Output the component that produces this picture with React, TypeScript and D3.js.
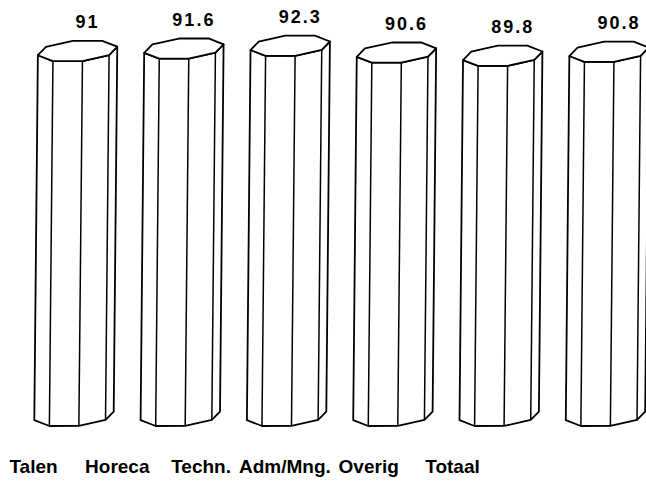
import React from "react";
import * as d3 from "d3";

const categories = ["Talen", "Horeca", "Techn.", "Adm/Mng.", "Overig", "Totaal"];
const values = [91, 91.6, 92.3, 90.6, 89.8, 90.8];
const valueLabels = ["91", "91.6", "92.3", "90.6", "89.8", "90.8"];

const W = 646;
const H = 484;

export default function App() {
  const x = d3.scalePoint<string>().domain(categories).range([74, 605.5]);
  const xl = d3.scalePoint<string>().domain(categories).range([33.5, 452.5]);
  const y = d3.scaleLinear().domain([0, 100]).range([426, 25]);

  const rx = 40;
  const ry = 10.5;
  const tilt = -3;
  const angles = [173, 128, 83, 38, -7, -52, -97, -142].map((a) => (a * Math.PI) / 180);
  const off = angles.map((a) => [rx * Math.cos(a), ry * Math.sin(a) + tilt * Math.cos(a)]);
  const frontY = d3.max(off, (o) => o[1]) as number;
  const baseY = y(0) - frontY;
  const skewPerPx = 3.5 / 358;

  const line = d3.line();

  return (
    <svg
      width={W}
      height={H}
      style={{ position: "absolute", left: 0, top: 0, background: "#fff" }}
      fontFamily="'Liberation Sans', Arial, Helvetica, sans-serif"
    >
      <rect x={0} y={0} width={W} height={H} fill="#fff" />
      {categories.map((c, i) => {
        const bx = x(c) as number;
        const by = baseY;
        const ty = y(values[i]) - frontY;
        const tx = bx + (by - ty) * skewPerPx;
        const top = off.map((o) => [tx + o[0], ty + o[1]] as [number, number]);
        const bot = off.map((o) => [bx + o[0], by + o[1]] as [number, number]);
        const body = [...top.slice(0, 5), ...bot.slice(0, 5).reverse()];
        return (
          <g key={c}>
            <path d={line(body) + "Z"} fill="#fff" stroke="#000" strokeWidth={1.8} strokeLinejoin="round" />
            {[1, 2, 3].map((k) => (
              <path key={k} d={line([top[k], bot[k]]) as string} stroke="#000" strokeWidth={1.5} fill="none" />
            ))}
            <path d={line(top) + "Z"} fill="#fff" stroke="#000" strokeWidth={1.8} strokeLinejoin="round" />
            <text
              x={tx + 10}
              y={y(values[i]) - 33}
              textAnchor="middle"
              fontSize={18}
              fontWeight="bold"
              letterSpacing={2}
              fill="#000"
            >
              {valueLabels[i]}
            </text>
            <text
              x={xl(c) as number}
              y={473}
              textAnchor="middle"
              fontSize={19}
              fontWeight="bold"
              fill="#000"
            >
              {c}
            </text>
          </g>
        );
      })}
    </svg>
  );
}
